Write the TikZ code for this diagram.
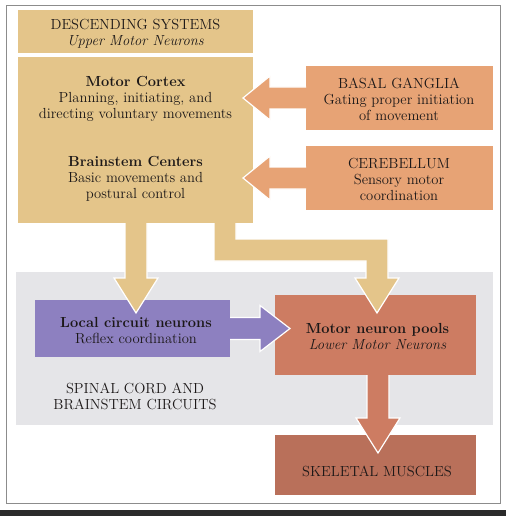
\documentclass[tikz,border=0pt]{standalone}
\usetikzlibrary{calc}
\definecolor{tanc}{RGB}{228,197,138}
\definecolor{orc}{RGB}{231,163,117}
\definecolor{purc}{RGB}{141,128,192}
\definecolor{motc}{RGB}{205,124,98}
\definecolor{skelc}{RGB}{185,112,90}
\definecolor{regc}{RGB}{229,229,232}
\definecolor{txtc}{RGB}{28,24,24}
\definecolor{framec}{RGB}{140,140,140}
\definecolor{bandc}{RGB}{43,43,43}
\tikzset{
  box/.style={inner sep=0pt, outer sep=0pt, anchor=center},
  txt/.style={align=center, inner sep=0pt, text=txtc, font=\fontsize{14.6}{16}\selectfont},
  arrowshape/.style={draw=white, line width=1.2pt, line join=miter}
}
\begin{document}
\begin{tikzpicture}[x=1pt,y=-1pt]
\useasboundingbox (0,0) rectangle (506,516);
% frame and bottom band
\draw[framec, line width=1pt] (6,6) rectangle (500,503);
\fill[bandc] (0,510) rectangle (506,516);
% spinal region
\node[box, fill=regc, minimum width=477pt, minimum height=153pt] (region) at (254.5,348.5) {};
% boxes
\node[box, fill=tanc, minimum width=235pt, minimum height=43pt] (top) at (135.5,31.5) {};
\node[box, fill=tanc, minimum width=235pt, minimum height=166pt] (main) at (135.5,140) {};
\node[box, fill=orc, minimum width=187pt, minimum height=64pt] (bg) at (399.5,98) {};
\node[box, fill=orc, minimum width=187pt, minimum height=64pt] (cb) at (399.5,178) {};
\node[box, fill=purc, minimum width=195pt, minimum height=57pt] (loc) at (132.5,328.5) {};
\node[box, fill=motc, minimum width=201pt, minimum height=80pt] (motor) at (375.5,335) {};
\node[box, fill=skelc, minimum width=201pt, minimum height=60pt] (skel) at (375.5,465) {};
% texts
\node[txt] (toptxt) at (135.5,34) {DESCENDING SYSTEMS\\\textit{Upper Motor Neurons}};
\node[txt] (mc) at (135.5,99) {\textbf{Motor Cortex}\\Planning, initiating, and\\directing voluntary movements};
\node[txt] (bc) at (135.5,179) {\textbf{Brainstem Centers}\\Basic movements and\\postural control};
\node[txt] (bgtxt) at (399,99) {BASAL GANGLIA\\Gating proper initiation\\of movement};
\node[txt] (cbtxt) at (399,179) {CEREBELLUM\\Sensory motor\\coordination};
\node[txt] (loctxt) at (136,331) {\textbf{Local circuit neurons}\\Reflex coordination};
\node[txt] (mottxt) at (377.5,337) {\textbf{Motor neuron pools}\\\textit{Lower Motor Neurons}};
\node[txt] (spin) at (135,396) {SPINAL CORD AND\\BRAINSTEM CIRCUITS};
\node[txt] (skeltxt) at (377,471) {SKELETAL MUSCLES};
% arrow tips
\path (main.east |- bg.west) ++(-10,0) coordinate (t5);
\path (main.east |- cb.west) ++(-10,0) coordinate (t6);
\path (loc.north) ++(3.5,13) coordinate (t1);
\path (motor.north) ++(1.5,18) coordinate (t2);
\path (motor.west) ++(15,-6.5) coordinate (t3);
\path (skel.north) ++(2.5,18) coordinate (t4);
\path (main.south) ++(89.5,27) coordinate (e);
% motor -> skeletal
\filldraw[arrowshape, fill=motc] ($(motor.south)+(-8.5,0)$) -- ($(t4)+(-11,-35)$) -- ($(t4)+(-22,-35)$) -- (t4) -- ($(t4)+(22,-35)$) -- ($(t4)+(11,-35)$) -- ($(motor.south)+(13.5,0)$);
% local -> motor
\filldraw[arrowshape, fill=purc] ($(loc.east)+(0,-11)$) -- ($(t3)+(-30,-11)$) -- ($(t3)+(-30,-23)$) -- (t3) -- ($(t3)+(-30,23)$) -- ($(t3)+(-30,11)$) -- ($(loc.east)+(0,11)$);
% main -> local
\filldraw[arrowshape, fill=tanc] ($(main.south)+(-10.5,0)$) -- ($(t1)+(-11,-35)$) -- ($(t1)+(-22,-35)$) -- (t1) -- ($(t1)+(22,-35)$) -- ($(t1)+(11,-35)$) -- ($(main.south)+(11.5,0)$);
% main -> motor (elbow)
\filldraw[arrowshape, fill=tanc] ($(main.south)+(78.5,0)$) -- ($(e)+(-11,11)$) -- ($(t2)+(-11,-52)$) -- ($(t2)+(-11,-35)$) -- ($(t2)+(-22,-35)$) -- (t2) -- ($(t2)+(22,-35)$) -- ($(t2)+(11,-35)$) -- ($(t2)+(11,-74)$) -- ($(e)+(11,-11)$) -- ($(main.south)+(100.5,0)$);
% basal ganglia -> main
\filldraw[arrowshape, fill=orc] ($(bg.west)+(0,-11)$) -- ($(t5)+(27,-11)$) -- ($(t5)+(27,-22)$) -- (t5) -- ($(t5)+(27,22)$) -- ($(t5)+(27,11)$) -- ($(bg.west)+(0,11)$);
% cerebellum -> main
\filldraw[arrowshape, fill=orc] ($(cb.west)+(0,-11)$) -- ($(t6)+(27,-11)$) -- ($(t6)+(27,-22)$) -- (t6) -- ($(t6)+(27,22)$) -- ($(t6)+(27,11)$) -- ($(cb.west)+(0,11)$);
\end{tikzpicture}
\end{document}
